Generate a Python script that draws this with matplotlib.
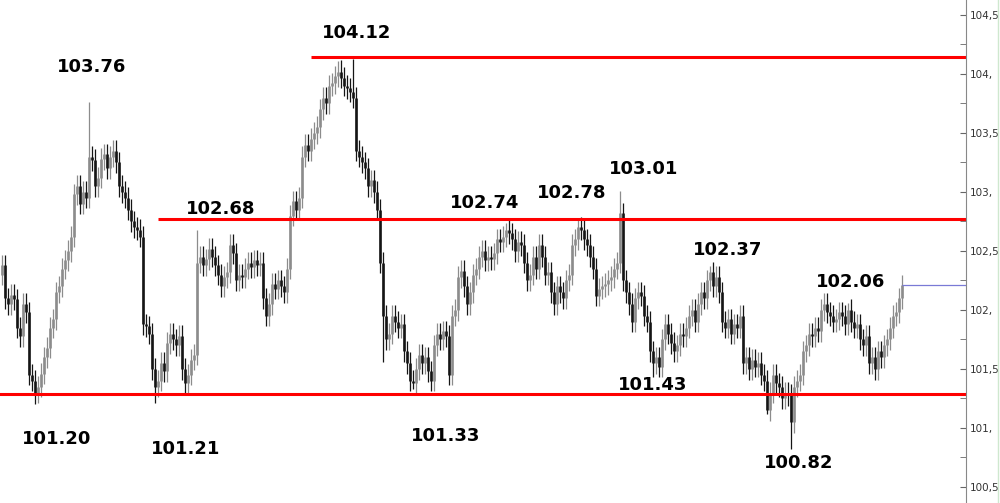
import matplotlib
matplotlib.use("Agg")
import matplotlib.pyplot as plt
from matplotlib.lines import Line2D
from matplotlib.ticker import MultipleLocator

# closing prices, one per bar (open = previous close)
closes = [
    102.38, 102.10, 102.05, 102.13, 102.09, 101.85, 101.78, 102.05, 101.98, 101.45,
    101.40, 101.30, 101.35, 101.46, 101.60, 101.68, 101.85, 101.92, 102.15, 102.20,
    102.35, 102.42, 102.50, 102.62, 102.98, 103.05, 102.90, 103.00, 102.95, 103.30,
    103.27, 103.05, 103.12, 103.28, 103.32, 103.20, 103.30, 103.35, 103.25, 103.05,
    103.00, 102.95, 102.85, 102.75, 102.70, 102.68, 102.62, 101.88, 101.86, 101.80,
    101.50, 101.35, 101.40, 101.55, 101.48, 101.72, 101.80, 101.75, 101.70, 101.78,
    101.50, 101.38, 101.45, 101.58, 101.62, 102.40, 102.45, 102.38, 102.43, 102.52,
    102.45, 102.38, 102.30, 102.20, 102.28, 102.32, 102.55, 102.48, 102.25, 102.30,
    102.28, 102.35, 102.40, 102.36, 102.42, 102.38, 102.40, 102.10, 101.95, 102.05,
    102.22, 102.18, 102.25, 102.20, 102.15, 102.35, 102.80, 102.92, 102.85, 102.95,
    103.30, 103.40, 103.35, 103.45, 103.50, 103.55, 103.70, 103.80, 103.75, 103.90,
    103.92, 103.98, 104.02, 103.97, 103.90, 103.88, 103.85, 103.80, 103.35, 103.30,
    103.25, 103.20, 103.05, 103.10, 103.00, 102.85, 102.40, 101.95, 101.75, 101.80,
    101.95, 101.90, 101.85, 101.88, 101.65, 101.55, 101.40, 101.38, 101.50, 101.62,
    101.55, 101.60, 101.48, 101.40, 101.70, 101.80, 101.75, 101.82, 101.78, 101.45,
    101.95, 102.00, 102.28, 102.33, 102.20, 102.05, 102.15, 102.30, 102.35, 102.45,
    102.50, 102.42, 102.45, 102.43, 102.48, 102.60, 102.58, 102.62, 102.68, 102.65,
    102.60, 102.50, 102.58, 102.55, 102.40, 102.25, 102.30, 102.45, 102.35, 102.55,
    102.45, 102.30, 102.32, 102.15, 102.05, 102.20, 102.15, 102.10, 102.25, 102.30,
    102.55, 102.60, 102.70, 102.68, 102.60, 102.55, 102.45, 102.35, 102.12, 102.18,
    102.20, 102.22, 102.25, 102.28, 102.35, 102.40, 102.82, 102.25, 102.15, 102.05,
    101.90, 102.10, 102.15, 102.12, 101.95, 101.90, 101.65, 101.55, 101.60, 101.52,
    101.75, 101.88, 101.80, 101.72, 101.65, 101.70, 101.80, 101.78, 101.85, 101.95,
    102.00, 101.90, 102.05, 102.15, 102.10, 102.25, 102.32, 102.20, 102.28, 102.15,
    101.90, 101.85, 101.92, 101.80, 101.88, 101.85, 101.95, 101.55, 101.60, 101.50,
    101.58, 101.52, 101.55, 101.45, 101.40, 101.15, 101.30, 101.45, 101.38, 101.35,
    101.25, 101.30, 101.28, 101.05, 101.35, 101.40, 101.45, 101.65, 101.70, 101.80,
    101.78, 101.85, 101.82, 102.00, 102.05, 101.98, 101.95, 101.90, 101.92, 101.98,
    101.95, 101.88, 102.00, 101.90, 101.85, 101.88, 101.75, 101.70, 101.78, 101.55,
    101.60, 101.50, 101.65, 101.60, 101.70, 101.75, 101.85, 101.95, 101.98, 102.10,
    102.21,
]
first_open = 102.30

# wick extremes for the notable bars
high_marks = {29: 103.76, 65: 102.68, 113: 104.12, 117: 104.13, 168: 102.74,
              192: 102.78, 206: 103.01, 236: 102.37, 282: 102.06, 300: 102.30}
low_marks = {11: 101.20, 51: 101.21, 61: 101.28, 127: 101.56, 137: 101.33,
             217: 101.43, 255: 101.12, 263: 100.82}
wick = 0.09

# swing labels: bar index, value, offset in pixels (x right, y up)
swing_labels = [
    (29, 103.76, 3, 35), (113, 104.12, 16, 27), (65, 102.68, 24, 21),
    (168, 102.74, -21, 20), (192, 102.78, -6, 25), (206, 103.01, 24, 22),
    (236, 102.37, 18, 16), (282, 102.06, 3, 21),
    (11, 101.20, 22, -35), (51, 101.21, 31, -46), (137, 101.33, 33, -47),
    (217, 101.43, 0, -8), (263, 100.82, 8, -14),
]

levels = [104.14, 102.77, 101.29]
level_starts = [103, 52, -1]
last_price = 102.21

ytick_vals = [100.5, 101.0, 101.5, 102.0, 102.5, 103.0, 103.5, 104.0, 104.5]
ytick_labels = ["100,5", "101,", "101,5", "102,", "102,5", "103,", "103,5", "104,", "104,5"]

n = len(closes)
opens = [first_open] + closes[:-1]
x = list(range(n))
highs, lows = [], []
for i in x:
    top = max(opens[i], closes[i])
    bot = min(opens[i], closes[i])
    highs.append(high_marks.get(i, top + wick))
    lows.append(low_marks.get(i, bot - wick))

up_col, dn_col = "#8c8c8c", "#151515"
cols = [up_col if closes[i] >= opens[i] else dn_col for i in x]

fig = plt.figure(figsize=(10, 5.03), dpi=100)
ax = fig.add_axes([0, 0, 0.966, 1])
ax.set_xlim(-0.7, 321.3)
ax.set_ylim(100.364, 104.627)

ax.vlines(x, lows, highs, colors=cols, linewidth=0.9)
ax.vlines(x, opens, closes, colors=cols, linewidth=1.9)

for lv, st in zip(levels, level_starts):
    ax.hlines(lv, st, 321.3, colors="#ff0000", linewidth=2.2)
ax.hlines(last_price, n - 1, 321.3, colors="#7a7ad6", linewidth=0.9)

for i, v, dx, dy in swing_labels:
    ax.annotate(f"{v:.2f}", xy=(i, v), xytext=(dx, dy), textcoords="offset pixels",
                ha="center", va="center", fontsize=13, fontweight="bold", color="black")

for s in ["left", "top", "bottom"]:
    ax.spines[s].set_visible(False)
ax.spines["right"].set_color("#888888")
ax.set_xticks([])
ax.yaxis.tick_right()
ax.set_yticks(ytick_vals)
ax.set_yticklabels(ytick_labels)
ax.yaxis.set_minor_locator(MultipleLocator(0.25))
ax.tick_params(axis="y", which="both", direction="in", length=4, color="#666666",
               labelsize=7.5, labelcolor="#333333", pad=3)

fig.add_artist(Line2D([0.998, 0.998], [0, 1], color="#cfe8cf", linewidth=1))

fig.savefig("out.png", dpi=100)
